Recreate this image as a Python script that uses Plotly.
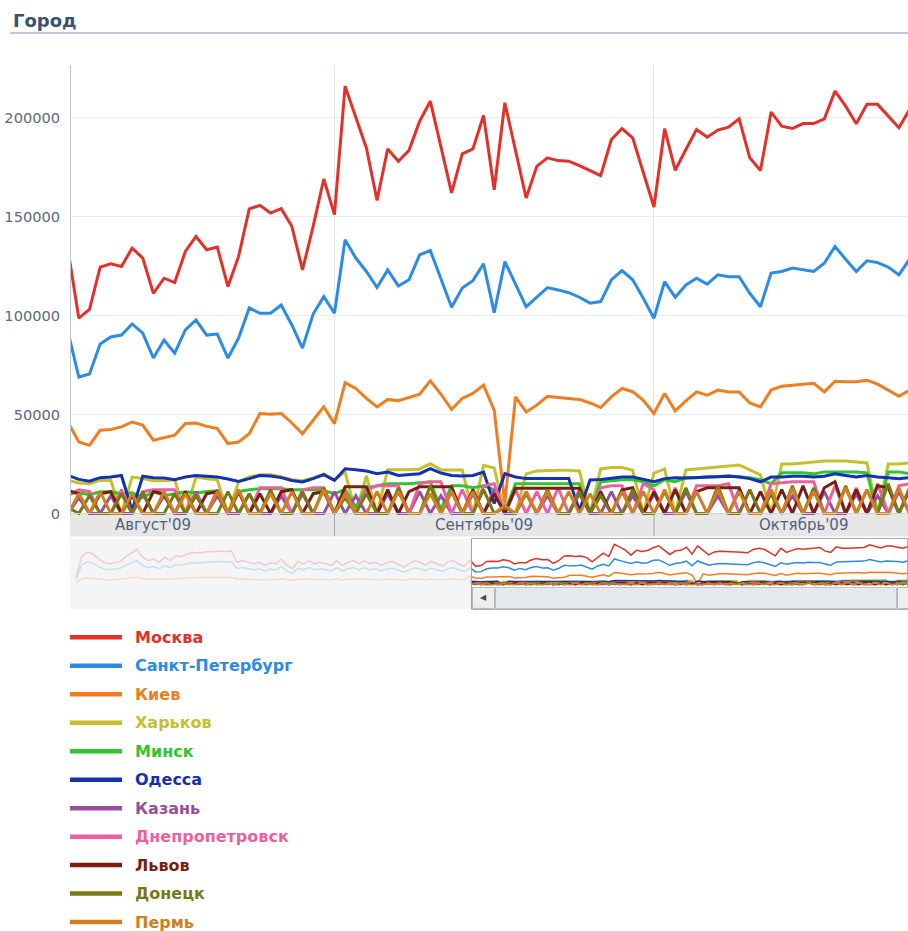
import plotly.graph_objects as go
from datetime import datetime, timedelta

W, H = 908, 931

# ---------------- data ----------------
cities = ["Москва", "Санкт-Петербург", "Киев", "Харьков", "Минск", "Одесса",
          "Казань", "Днепропетровск", "Львов", "Донецк", "Пермь"]
colors = ["#e5302a", "#2b8be6", "#f07d20", "#c6c02c", "#2ec52e", "#1232b0",
          "#9a4f9e", "#ee5fa0", "#7a1f10", "#7a7812", "#d27f20"]

first_day = "2009-08-07"
early_first_day = "2009-05-28"
month_labels = ["Август'09", "Сентябрь'09", "Октябрь'09"]
month_label_days = ["2009-08-15", "2009-09-15", "2009-10-15"]
month_starts = ["2009-09-01", "2009-10-01"]
y_ticks = [0, 50000, 100000, 150000, 200000]

moscow = [132.5, 98.6, 103.1, 124.4, 126.1, 124.7, 134.0, 129.0, 111.2, 118.8, 116.6, 132.3, 139.9, 133.2, 134.5, 114.6,
          129.8, 153.8, 155.6, 151.7, 153.9, 145.0, 123.0, 145.0, 168.9, 150.9, 215.8, 200.6, 184.6, 158.1, 184.1, 177.9,
          183.4, 198.1, 208.2, 185.1, 161.9, 181.6, 184.1, 201.0, 163.5, 207.4, 183.0, 159.3, 175.3, 179.6, 178.2, 177.9,
          175.7, 173.3, 170.6, 188.8, 194.4, 189.7, 172.0, 154.8, 194.3, 173.3, 183.8, 193.9, 190.0, 193.6, 195.1, 199.3,
          179.6, 173.2, 202.7, 195.6, 194.4, 196.9, 196.9, 199.3, 213.3, 205.7, 196.8, 206.6, 206.6, 200.6, 194.8, 204.0]
spb = [91.3, 68.9, 70.4, 85.6, 89.1, 90.1, 95.7, 91.1, 78.5, 87.6, 81.0, 92.7, 97.7, 90.1, 90.6, 78.5,
       88.6, 103.8, 101.1, 101.1, 105.3, 95.2, 83.5, 100.7, 109.5, 101.1, 138.2, 129.0, 122.2, 114.1, 123.0, 114.9,
       118.0, 130.6, 132.8, 118.8, 104.1, 113.8, 117.6, 126.1, 101.4, 127.2, 115.9, 104.4, 109.2, 114.1, 112.9, 111.5,
       109.2, 106.2, 107.0, 118.0, 122.7, 118.0, 108.7, 98.6, 117.1, 109.2, 115.4, 118.8, 115.8, 120.5, 119.6, 119.6,
       111.2, 104.4, 121.4, 122.2, 123.9, 123.0, 122.2, 126.4, 134.8, 128.4, 122.2, 127.6, 126.7, 124.4, 120.5, 128.4]
kiev = [46.0, 36.1, 34.4, 42.0, 42.4, 43.7, 46.2, 44.6, 37.0, 38.3, 39.5, 45.4, 45.7, 44.0, 42.9, 35.3,
        36.1, 40.3, 50.5, 50.1, 50.5, 45.7, 40.3, 47.1, 53.8, 45.4, 66.0, 63.1, 58.1, 53.8, 57.6, 56.9,
        58.6, 60.2, 67.0, 60.2, 52.5, 58.1, 60.6, 64.8, 52.2, 5.0, 58.9, 51.3, 54.7, 59.2, 58.6, 58.1,
        57.6, 55.8, 53.5, 58.9, 63.1, 61.5, 57.2, 50.5, 60.6, 51.8, 56.9, 61.4, 59.7, 62.3, 61.4, 61.4,
        55.8, 53.8, 62.3, 64.3, 64.8, 65.0, 65.7, 61.4, 66.8, 66.5, 66.5, 67.3, 65.3, 62.3, 59.2, 62.3]
kharkov = [16.7, 15.4, 15.0, 16.7, 16.7, 0, 18.4, 17.7, 16.5, 16.5, 17.0, 0, 18.4, 17.5, 17.0, 0,
           16.0, 18.5, 19.5, 19.5, 18.5, 17.0, 16.5, 18.0, 20.0, 17.0, 21.0, 0, 19.0, 0, 22.1, 22.1,
           22.1, 22.5, 25.1, 22.0, 22.0, 22.0, 0, 24.3, 23.0, 0, 0, 20.0, 21.5, 21.8, 21.8, 21.8,
           21.5, 0, 22.5, 23.2, 23.2, 21.8, 0, 20.4, 22.5, 0, 22.0, 22.5, 23.0, 23.5, 24.0, 24.5,
           22.0, 19.5, 0, 25.0, 25.0, 25.5, 26.0, 26.5, 26.5, 26.5, 26.0, 25.5, 0, 25.0, 25.0, 25.5]
minsk = [10, 10.5, 9.5, 11, 11, 10, 10.5, 8, 11, 9, 10, 11, 10.5, 11, 11.5, 0,
         11, 12, 12.5, 12.5, 12.5, 12, 12, 12, 11.5, 10, 12, 3, 13, 14, 15, 15,
         15, 15.5, 16, 2, 14, 14, 13, 14, 12, 1, 15, 15, 15, 15, 15, 15,
         15, 0, 16, 16.5, 17, 17, 16, 14, 17, 16, 18, 18, 18.5, 18.5, 19, 18.5,
         18, 17, 15, 20.5, 20.5, 20.5, 20, 21, 21, 21, 21, 20.5, 0, 21, 21, 20]
odessa = [19.2, 17.2, 16.3, 18.1, 18.4, 19.2, 1.5, 18.8, 18.1, 17.9, 17.1, 18.4, 19.2, 18.8, 18.4, 17.4,
          16.2, 17.6, 19.2, 18.9, 18.1, 16.7, 15.9, 17.6, 19.6, 16.7, 22.6, 22.1, 21.4, 20.1, 20.9, 19.2,
          19.6, 20.1, 22.6, 20.4, 19.2, 18.9, 19.2, 20.9, 5.0, 20.1, 18.4, 17.6, 17.6, 17.6, 17.6, 17.6,
          1.5, 16.9, 17.1, 17.8, 18.4, 18.4, 17.2, 16.0, 17.6, 18.1, 17.9, 18.1, 18.4, 18.4, 18.8, 18.4,
          17.6, 16.0, 18.4, 18.4, 18.8, 18.8, 18.4, 18.8, 20.1, 19.2, 18.4, 19.2, 18.4, 18.1, 17.6, 18.1]
kazan = [0, 8, 0, 0, 9, 0, 0, 10, 0, 9, 0, 0, 11, 0, 9, 0,
         0, 10, 0, 0, 9, 0, 10, 0, 0, 11, 0, 9, 0, 0, 10, 0,
         0, 11, 0, 9, 0, 0, 10, 0, 12, 0, 0, 11, 0, 9, 0, 0,
         10, 0, 0, 11, 0, 9, 0, 10, 0, 0, 11, 0, 0, 9, 0, 12,
         0, 0, 10, 0, 9, 0, 0, 11, 0, 0, 10, 0, 9, 0, 11, 0]
dnepr = [9, 12, 11, 0, 0, 12, 0, 11, 12, 12, 12, 0, 10, 0, 12, 0,
         11, 0, 13, 13, 13, 0, 12, 13, 13, 0, 11, 0, 12, 14, 14, 14,
         0, 15, 16, 16, 0, 12, 0, 14, 15, 0, 12, 0, 11, 0, 13, 0,
         12, 0, 13, 14, 14, 0, 15, 12, 0, 13, 0, 14, 14, 14, 15, 0,
         12, 0, 15, 15.5, 16, 16, 16, 0, 14, 0, 13, 0, 15, 0, 14, 15]
lvov = [11.6, 10, 0, 10, 11, 0, 9, 0, 11, 10, 0, 11, 0, 10, 11, 0,
        11, 0, 10, 0, 11, 12, 0, 10, 11, 0, 13.5, 13.5, 13.5, 0, 12, 0,
        11, 13.5, 13.5, 13.5, 13.5, 0, 12, 0, 10, 0, 12.7, 12.7, 12.7, 12.7, 12.7, 12.7,
        12.7, 0, 11, 0, 12, 13, 0, 11, 0, 12, 0, 11, 13, 13, 13, 13,
        0, 11, 0, 12, 0, 14, 0, 13, 16, 0, 12, 0, 14, 13, 0, 12]
donetsk = [3, 0, 9, 0, 0, 10, 0, 11, 0, 0, 10, 0, 9, 0, 0, 11,
           0, 10, 0, 12, 0, 0, 11, 0, 13, 0, 8, 0, 10, 0, 0, 13,
           0, 0, 14, 0, 11, 0, 0, 12, 0, 3, 0, 10, 0, 12, 0, 0,
           11, 0, 9, 0, 0, 12, 0, 0, 11, 0, 13, 0, 0, 14, 0, 0,
           12, 0, 10, 0, 14, 0, 13, 0, 0, 14, 0, 12, 0, 15, 0, 13]
perm = [0, 10, 0, 11, 0, 0, 10, 0, 0, 11, 0, 10, 0, 0, 11, 0,
        12, 0, 0, 10, 0, 11, 0, 0, 12, 0, 10, 0, 0, 11, 0, 11,
        0, 0, 10, 0, 11, 0, 11, 0, 0, 4, 0, 11, 0, 11, 0, 11,
        0, 10, 0, 0, 11, 0, 11, 0, 12, 0, 0, 11, 0, 12, 0, 11,
        0, 0, 12, 0, 13, 0, 11, 0, 0, 13, 0, 12, 0, 0, 13, 0]

# earlier period, visible only in the navigator (faded)
moscow_early = [40, 150, 175, 165, 140, 120, 112, 118, 125, 150, 170, 189, 147, 129, 138, 120,
                147, 129, 155, 150, 163, 172, 170, 175, 178, 176, 180, 178, 181, 120, 129, 120,
                112, 120, 103, 117, 112, 138, 103, 86, 125, 112, 129, 112, 120, 112, 103, 129,
                103, 120, 129, 112, 129, 112, 120, 103, 118, 125, 110, 95, 112, 128, 120, 105,
                126, 115, 101, 121, 130, 110, 100]
spb_early = [30, 105, 122, 115, 98, 85, 80, 84, 88, 105, 118, 130, 103, 92, 97, 85,
             102, 92, 108, 104, 113, 118, 117, 120, 122, 121, 124, 122, 124, 86, 92, 86,
             80, 86, 75, 84, 80, 97, 74, 63, 89, 80, 92, 80, 86, 80, 74, 92,
             74, 86, 92, 80, 92, 80, 86, 74, 84, 89, 79, 68, 80, 91, 86, 75,
             90, 82, 72, 86, 92, 79, 72]
kiev_early = [10, 32, 38, 36, 31, 28, 26, 28, 30, 34, 38, 41, 33, 30, 32, 28,
              33, 30, 35, 34, 37, 39, 38, 40, 40, 40, 41, 40, 41, 30, 32, 30,
              28, 30, 26, 29, 28, 33, 26, 23, 31, 28, 32, 28, 30, 28, 26, 32,
              26, 30, 32, 28, 32, 28, 30, 26, 29, 31, 28, 25, 28, 32, 30, 27,
              31, 29, 26, 30, 33, 29, 27]

series = [moscow, spb, kiev, kharkov, minsk, odessa, kazan, dnepr, lvov, donetsk, perm]
early = {0: moscow_early, 1: spb_early, 2: kiev_early}

# ---------------- helpers ----------------
YS = 0.9935   # vertical calibration of pixel targets


def px(x):
    return x / W


def py(y):
    return 1 - (y / YS) / H


d0 = datetime.fromisoformat(first_day)
dates = [d0 + timedelta(days=i) for i in range(len(moscow))]
e0 = datetime.fromisoformat(early_first_day)
early_dates = [e0 + timedelta(days=i) for i in range(len(moscow_early))]

PLOT_L, PLOT_R, PLOT_T, PLOT_B = 71, 908, 65, 515.5
MAIN_PPD = 10.65          # pixels per day in the main chart
NAV_PPD = 5.55            # pixels per day in the navigator
NAV_L, NAV_WIN_L = 70, 471.5
view_start = d0 + timedelta(hours=6.3)
view_end = view_start + timedelta(days=(PLOT_R - PLOT_L) / MAIN_PPD)
nav_start = view_start - timedelta(days=(NAV_WIN_L - NAV_L) / NAV_PPD)
nav_end = view_start + timedelta(days=(W - NAV_WIN_L) / NAV_PPD)
win_right_px = NAV_WIN_L + (view_end - view_start).total_seconds() / 86400 * NAV_PPD

fig = go.Figure()

for i, (name, col, vals) in enumerate(zip(cities, colors, series)):
    fig.add_trace(go.Scatter(
        x=dates, y=[v * 1000 for v in vals], name=name, mode="lines",
        line=dict(color=col, width=3), xaxis="x", yaxis="y", showlegend=False,
        hoverinfo="skip"))

for i, (name, col, vals) in enumerate(zip(cities, colors, series)):
    xs = list(dates)
    ys = [v * 1000 for v in vals]
    if i in early:
        xs = early_dates + xs
        ys = [v * 1000 for v in early[i]] + ys
    fig.add_trace(go.Scatter(
        x=xs, y=ys, name=name, mode="lines",
        line=dict(color=col, width=1.5), xaxis="x2", yaxis="y2", showlegend=False,
        hoverinfo="skip"))

shapes = []
annotations = []

# title + underline
annotations.append(dict(text="<b>Город</b>", x=px(11), y=py(20.5), xref="paper", yref="paper",
                        xanchor="left", yanchor="middle", showarrow=False,
                        font=dict(family="DejaVu Sans", size=18, color="#3a526e")))
shapes.append(dict(type="line", xref="paper", yref="paper", x0=px(10), x1=1, y0=py(33), y1=py(33),
                   line=dict(color="#a9b9cb", width=1.5)))

# gray band with month labels
shapes.append(dict(type="rect", xref="paper", yref="paper", x0=px(70), x1=1, y0=py(537), y1=py(514),
                   fillcolor="#e7e7e7", line=dict(width=0), layer="below"))
shapes.append(dict(type="line", xref="paper", yref="paper", x0=px(70), x1=1, y0=py(514), y1=py(514),
                   line=dict(color="#cfd3d8", width=1)))
for ms in month_starts:
    shapes.append(dict(type="line", xref="x", yref="paper", x0=ms, x1=ms, y0=py(537), y1=py(514),
                       line=dict(color="#a5a5a5", width=1)))
for lab, dday in zip(month_labels, month_label_days):
    annotations.append(dict(text=lab, x=dday, xref="x", y=py(526), yref="paper",
                            xanchor="center", yanchor="middle", showarrow=False,
                            font=dict(family="DejaVu Sans", size=15, color="#4d627e")))

# navigator decorations
shapes.append(dict(type="rect", xref="paper", yref="paper", x0=px(NAV_L), x1=px(NAV_WIN_L),
                   y0=py(610), y1=py(539), fillcolor="rgba(243,243,243,0.80)",
                   line=dict(width=0), layer="above"))
shapes.append(dict(type="rect", xref="paper", yref="paper", x0=px(NAV_WIN_L), x1=px(win_right_px),
                   y0=py(610), y1=py(539), fillcolor="rgba(0,0,0,0)",
                   line=dict(color="#a3a3a3", width=1), layer="above"))
shapes.append(dict(type="rect", xref="paper", yref="paper", x0=px(472.5), x1=px(494.5),
                   y0=py(609), y1=py(588), fillcolor="#efefef",
                   line=dict(color="#b3b3b3", width=1), layer="above"))
shapes.append(dict(type="rect", xref="paper", yref="paper", x0=px(495.5), x1=px(896.5),
                   y0=py(609), y1=py(588), fillcolor="#e5e9ed",
                   line=dict(color="#b9c0c8", width=1), layer="above"))
shapes.append(dict(type="rect", xref="paper", yref="paper", x0=px(897.5), x1=px(919),
                   y0=py(609), y1=py(588), fillcolor="#efefef",
                   line=dict(color="#b3b3b3", width=1), layer="above"))
annotations.append(dict(text="◀", x=px(483.5), y=py(598.5), xref="paper", yref="paper",
                        xanchor="center", yanchor="middle", showarrow=False,
                        font=dict(family="DejaVu Sans", size=8, color="#4a4a4a")))

# legend (drawn manually to match the wide line samples)
for i, (name, col) in enumerate(zip(cities, colors)):
    yy = 638 + 28.5 * i
    shapes.append(dict(type="line", xref="paper", yref="paper", x0=px(70), x1=px(122),
                       y0=py(yy), y1=py(yy), line=dict(color=col, width=4.5)))
    annotations.append(dict(text="<b>%s</b>" % name, x=px(133), y=py(yy), xref="paper", yref="paper",
                            xanchor="left", yanchor="middle", showarrow=False,
                            font=dict(family="DejaVu Sans", size=16, color=col)))

y_lo = -(PLOT_B - 514) / 396 * 200000
y_hi = 200000 + (117.5 - PLOT_T) / 396 * 200000

fig.update_layout(
    width=W, height=H, margin=dict(l=0, r=0, t=0, b=0),
    paper_bgcolor="white", plot_bgcolor="white",
    font=dict(family="DejaVu Sans"),
    xaxis=dict(domain=[px(PLOT_L), 1], range=[view_start, view_end], type="date",
               showgrid=True, gridcolor="#e3e7ec", gridwidth=1, tick0="2009-08-01", dtick="M1",
               showticklabels=False, ticks="", zeroline=False, showline=False, anchor="y"),
    yaxis=dict(domain=[py(PLOT_B), py(PLOT_T)], range=[y_lo, y_hi], tickvals=y_ticks,
               ticktext=[str(v) for v in y_ticks], showgrid=True, gridcolor="#e8ecf0",
               zeroline=False, showline=True, linecolor="#bcc4cc", linewidth=1, ticks="",
               ticklabelstandoff=7, tickfont=dict(family="DejaVu Sans", size=14.6, color="#5a6a80"),
               anchor="x"),
    xaxis2=dict(domain=[px(NAV_L), 1], range=[nav_start, nav_end], type="date", showgrid=False,
                showticklabels=False, ticks="", zeroline=False, showline=False, anchor="y2"),
    yaxis2=dict(domain=[py(586), py(543)], range=[-3000, 226000], showgrid=False,
                showticklabels=False, ticks="", zeroline=False, showline=False, anchor="x2"),
    shapes=shapes, annotations=annotations, showlegend=False,
)

fig.write_html("out.html", config={"displayModeBar": False},
               post_script="document.body.style.margin='0';document.body.style.overflow='hidden';")
